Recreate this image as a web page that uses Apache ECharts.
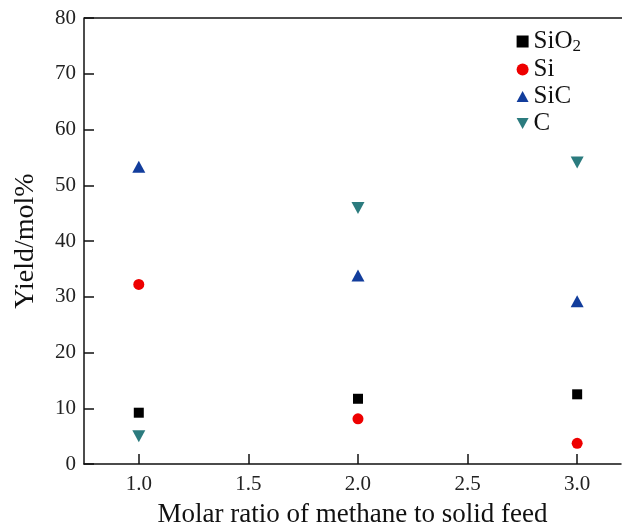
<!DOCTYPE html>
<html>
<head>
<meta charset="utf-8">
<title>Yield vs molar ratio</title>
<script src="https://cdn.jsdelivr.net/npm/echarts@6/dist/echarts.min.js"></script>
<style>
  html, body { margin: 0; padding: 0; background: #fff; }
  #chart { width: 622px; height: 526px; }
</style>
</head>
<body>
<div id="chart"></div>
<script>
// x values (molar ratio)
var ratios = [1.0, 2.0, 3.0];
// yields, mol%
var sio2 = [9.2, 11.7, 12.5];
var si   = [32.2, 8.1, 3.7];
var sic  = [53.3, 33.8, 29.2];
var carb = [5.0, 45.9, 54.1];
var xTicks = [1.0, 1.5, 2.0, 2.5, 3.0];

function pairs(ys) {
  var out = [];
  for (var i = 0; i < ratios.length; i++) {
    out.push([ratios[i], ys[i]]);
  }
  return out;
}

var font = 'Liberation Serif';
var downTri = 'path://M0,0 L10,0 L5,9 Z';
var upTri = 'path://M5,0 L10,9 L0,9 Z';

var myChart = echarts.init(document.getElementById('chart'));
var option = {
  animation: false,
  grid: { left: 84, right: 1, top: 18, bottom: 62, outerBoundsMode: 'none', containLabel: false },
  legend: {
    orient: 'vertical',
    right: 36,
    top: 24,
    itemGap: 2,
    itemWidth: 12,
    itemHeight: 12,
    textStyle: {
      fontFamily: font, fontSize: 25, color: '#111',
      rich: {
        n: { fontFamily: font, fontSize: 25, color: '#111' },
        s: { fontFamily: font, fontSize: 17, color: '#111', padding: [10, 0, 0, 0] }
      }
    },
    formatter: function (name) {
      if (name === 'SiO2') return '{n|SiO}{s|2}';
      return '{n|' + name + '}';
    },
    data: ['SiO2', 'Si', 'SiC', 'C']
  },
  xAxis: {
    type: 'value',
    min: 0.75,
    max: 3.2,
    name: 'Molar ratio of methane to solid feed',
    nameLocation: 'middle',
    nameGap: 37,
    nameTextStyle: { fontFamily: font, fontSize: 27, color: '#111' },
    splitLine: { show: false },
    axisLine: { lineStyle: { color: '#111', width: 1.5 } },
    axisTick: { show: true, inside: true, length: 10, customValues: xTicks, lineStyle: { color: '#111', width: 1.5 } },
    axisLabel: {
      customValues: xTicks, margin: 10,
      fontFamily: font, fontSize: 21, color: '#222',
      formatter: function (v) { return v.toFixed(1); }
    }
  },
  yAxis: {
    type: 'value',
    min: 0,
    max: 80,
    interval: 10,
    name: 'Yield/mol%',
    nameLocation: 'middle',
    nameGap: 44,
    nameTextStyle: { fontFamily: font, fontSize: 28, color: '#111' },
    splitLine: { show: false },
    axisLine: { show: true, lineStyle: { color: '#111', width: 1.5 } },
    axisTick: { show: true, inside: true, length: 10, lineStyle: { color: '#111', width: 1.5 } },
    axisLabel: { margin: 8, fontFamily: font, fontSize: 21, color: '#222' }
  },
  series: [
    { name: 'SiO2', type: 'scatter', symbol: 'rect', symbolSize: 10,
      itemStyle: { color: '#000', opacity: 1 }, data: pairs(sio2) },
    { name: 'Si', type: 'scatter', symbol: 'circle', symbolSize: 11,
      itemStyle: { color: '#ee0000', opacity: 1 }, data: pairs(si) },
    { name: 'SiC', type: 'scatter', symbol: upTri, symbolSize: [13, 12],
      itemStyle: { color: '#123d9c', opacity: 1 }, data: pairs(sic) },
    { name: 'C', type: 'scatter', symbol: downTri, symbolSize: [13, 12],
      itemStyle: { color: '#2b7b7e', opacity: 1 }, data: pairs(carb) }
  ],
  graphic: [{
    type: 'line',
    shape: { x1: 84, y1: 18, x2: 622, y2: 18 },
    style: { stroke: '#111', lineWidth: 1.5 }
  }]
};
myChart.setOption(option);
</script>
</body>
</html>
